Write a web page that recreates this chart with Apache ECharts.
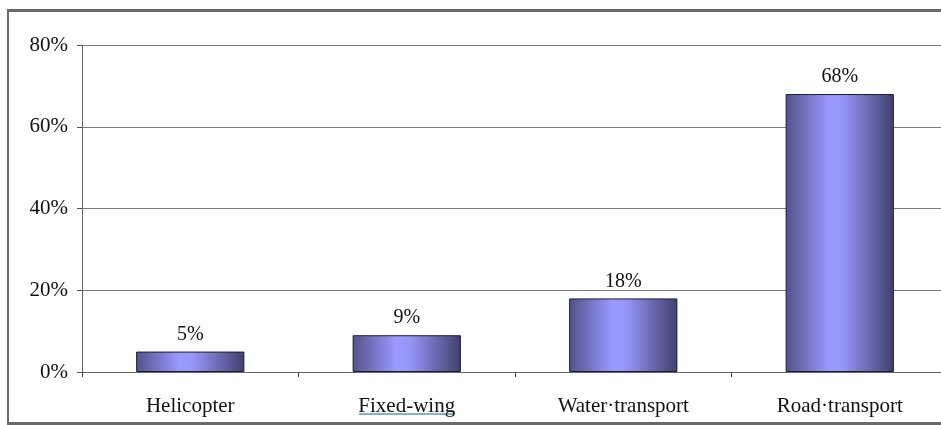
<!DOCTYPE html>
<html>
<head>
<meta charset="utf-8">
<style>
  html, body { margin: 0; padding: 0; background: #fff; overflow: hidden; }
  /* drawing surface is slightly wider than the window; the plot's right end is cut off */
  #chart { width: 950px; height: 425px; }
</style>
<script src="https://cdn.jsdelivr.net/npm/echarts@6/dist/echarts.min.js"></script>
</head>
<body>
<div id="chart"></div>
<script>
// Share of transport mode
const categories = ['Helicopter', 'Fixed-wing', 'Water·transport', 'Road·transport'];
const shares = [5, 9, 18, 68];
const yTicks = { min: 0, max: 80, step: 20 };

const FONT = '"Liberation Serif", "Times New Roman", serif';
const chart = echarts.init(document.getElementById('chart'), null, { renderer: 'canvas' });

const barFill = new echarts.graphic.LinearGradient(0, 0, 1, 0, [
  { offset: 0, color: '#52528a' },
  { offset: 0.4, color: '#9999ff' },
  { offset: 0.52, color: '#9797fb' },
  { offset: 1, color: '#40406c' }
]);

const frame = [
  { type: 'rect', shape: { x: 7, y: 9, width: 945, height: 3 }, style: { fill: '#6a6a6a' }, silent: true },
  { type: 'rect', shape: { x: 7, y: 9, width: 2, height: 416 }, style: { fill: '#6a6a6a' }, silent: true },
  { type: 'rect', shape: { x: 7, y: 422, width: 945, height: 3 }, style: { fill: '#6a6a6a' }, silent: true }
];

chart.setOption({
  animation: false,
  backgroundColor: '#fff',
  grid: { left: 82, top: 45, height: 327, width: 866, containLabel: false, outerBoundsMode: 'none' },
  xAxis: {
    type: 'category',
    data: categories,
    axisLine: { lineStyle: { color: '#666', width: 1 } },
    axisTick: { show: true, length: 5, lineStyle: { color: '#444' } },
    axisLabel: { color: '#111', fontFamily: FONT, fontSize: 21, margin: 24 }
  },
  yAxis: {
    type: 'value',
    min: yTicks.min,
    max: yTicks.max,
    interval: yTicks.step,
    axisLine: { show: true, lineStyle: { color: '#666', width: 1 } },
    axisTick: { show: true, length: 5, lineStyle: { color: '#555' } },
    axisLabel: { color: '#111', fontFamily: FONT, fontSize: 21, margin: 14, formatter: '{value}%' },
    splitLine: { show: true, lineStyle: { color: '#7a7a7a', width: 1 } }
  },
  series: [{
    type: 'bar',
    data: shares,
    barWidth: '50%',
    itemStyle: { color: barFill, borderColor: '#1c1c38', borderWidth: 1 },
    label: {
      show: true,
      position: 'top',
      distance: 7,
      color: '#111',
      fontFamily: FONT,
      fontSize: 20,
      formatter: '{c}%'
    }
  }],
  graphic: frame
});

// Proofing underline beneath the second category label
const cx = chart.convertToPixel({ xAxisIndex: 0 }, categories[1]);
chart.setOption({
  graphic: frame.concat([
    { type: 'line', shape: { x1: cx - 48, y1: 414, x2: cx + 48, y2: 414 }, style: { stroke: '#5a9bb0', lineWidth: 1.5 }, silent: true }
  ])
}, { replaceMerge: ['graphic'] });
</script>
</body>
</html>
